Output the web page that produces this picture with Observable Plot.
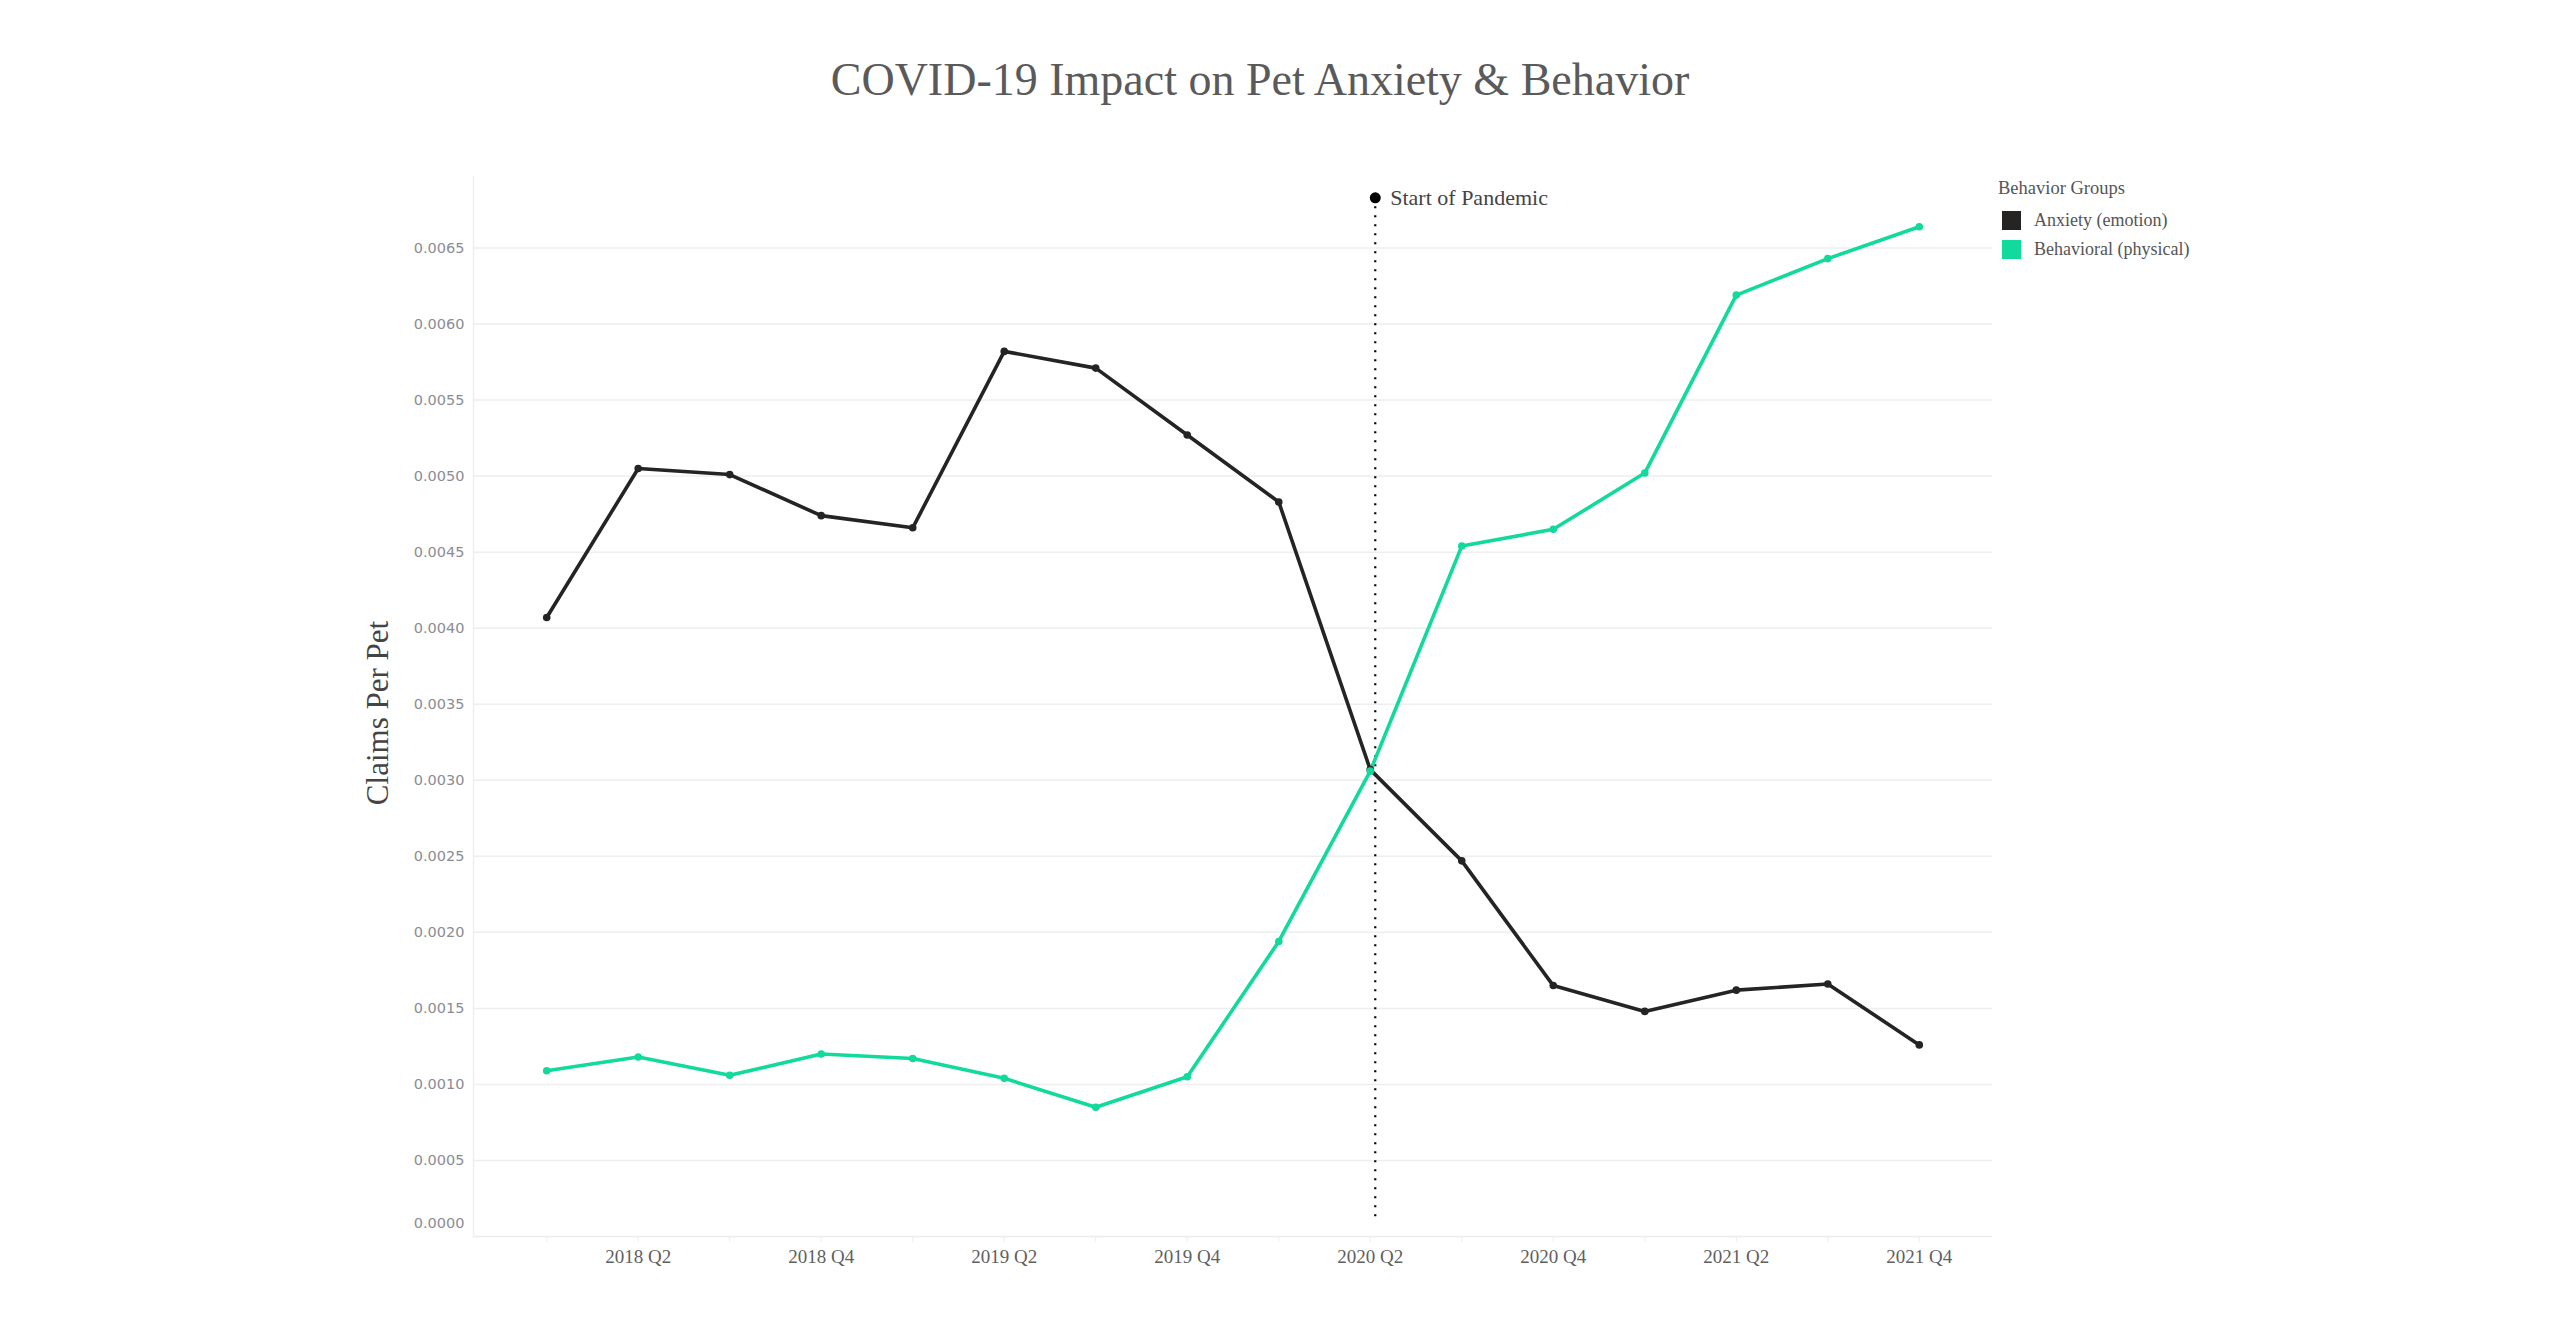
<!DOCTYPE html>
<html><head><meta charset="utf-8">
<script src="https://cdn.jsdelivr.net/npm/d3@7"></script>
<script src="https://cdn.jsdelivr.net/npm/@observablehq/plot@0.6"></script>
<style>
body{margin:0;background:#fff;}
#wrap{position:relative;width:2560px;height:1341px;overflow:hidden;font-family:"Liberation Serif",serif;}
#chart{position:absolute;left:0;top:0;}
#title{position:absolute;left:0;width:2520px;top:57px;text-align:center;font-size:46px;color:#5a5a5a;line-height:1;}
#ylabel{position:absolute;left:377px;top:713px;transform:translate(-50%,-50%) rotate(-90deg);font-size:31px;color:#444;white-space:nowrap;line-height:1;}
#legend{position:absolute;left:1998px;top:178px;color:#555;}
#legend .lt{font-size:18.5px;margin-bottom:7px;}
#legend .it{display:flex;align-items:center;font-size:18px;height:29px;}
#legend .sw{width:19px;height:19px;margin:0 13px 0 4px;}
</style></head>
<body>
<div id="wrap">
  <div id="chart"></div>
  <div id="title"></div>
  <div id="ylabel"></div>
  <div id="legend"></div>
</div>
<script>
const titleText = "COVID-19 Impact on Pet Anxiety & Behavior";
const yLabel = "Claims Per Pet";
const legendTitle = "Behavior Groups";
const quarters = ["2018 Q1","2018 Q2","2018 Q3","2018 Q4","2019 Q1","2019 Q2","2019 Q3","2019 Q4",
                  "2020 Q1","2020 Q2","2020 Q3","2020 Q4","2021 Q1","2021 Q2","2021 Q3","2021 Q4"];
const xTicks = ["2018 Q2","2018 Q4","2019 Q2","2019 Q4","2020 Q2","2020 Q4","2021 Q2","2021 Q4"];
const yTicks = [0.0005,0.001,0.0015,0.002,0.0025,0.003,0.0035,0.004,0.0045,0.005,0.0055,0.006,0.0065];
const yZeroTick = [0];
const groups = ["Anxiety (emotion)","Behavioral (physical)"];
const colors = ["#252423","#12d99c"];
const anxiety = [0.00407,0.00505,0.00501,0.00474,0.00466,0.00582,0.00571,0.00527,
                 0.00483,0.00307,0.00247,0.00165,0.00148,0.00162,0.00166,0.00126];
const behavioral = [0.00109,0.00118,0.00106,0.00120,0.00117,0.00104,0.00085,0.00105,
                    0.00194,0.00306,0.00454,0.00465,0.00502,0.00619,0.00643,0.00664];
const pandemic = [{quarter:"2020 Q2", y1:0.00013, y2:0.00683, label:"Start of Pandemic"}];

const data = [];
quarters.forEach((q,i)=>{
  data.push({quarter:q, group:groups[0], value:anxiety[i]});
  data.push({quarter:q, group:groups[1], value:behavioral[i]});
});

const fmt = d3.format(".4f");
const plot = Plot.plot({
  width: 2560,
  height: 1341,
  marginTop: 176,
  marginBottom: 105,
  marginLeft: 473,
  marginRight: 568,
  style: {background:"transparent"},
  x: {type:"point", domain: quarters, padding: 0.8, round: false},
  y: {domain:[0, 0.00697]},
  color: {domain: groups, range: colors},
  marks: [
    Plot.frame({anchor:"left", stroke:"#f0f0f0", strokeWidth:1.5}),
    Plot.gridY(yTicks, {stroke:"#eeeeee", strokeOpacity:1, strokeWidth:1.5}),
    Plot.ruleY([0], {stroke:"#ececec", strokeWidth:1.5}),
    Plot.axisX(quarters, {tickSize:6, tickFormat:()=>"", stroke:"#ededed", label:null}),
    Plot.axisY(yTicks, {tickSize:0, tickPadding:9, tickFormat: fmt, label:null,
      fontFamily:"DejaVu Sans", fontSize:14.5, fill:"#8a8d93"}),
    Plot.axisY(yZeroTick, {tickSize:0, tickPadding:9, tickFormat: fmt, label:null, dy:-13,
      fontFamily:"DejaVu Sans", fontSize:14.5, fill:"#8a8d93"}),
    Plot.axisX(xTicks, {tickSize:0, tickPadding:13, label:null,
      fontFamily:"Liberation Serif", fontSize:19, fill:"#5f5f5f"}),
    Plot.ruleX(pandemic, {x:"quarter", y1:"y1", y2:"y2", dx:5, stroke:"#000", strokeWidth:2.2, strokeDasharray:"2,7"}),
    Plot.line(data, {x:"quarter", y:"value", stroke:"group", strokeWidth:3.6, z:"group"}),
    Plot.dot(data, {x:"quarter", y:"value", fill:"group", r:3.8}),
    Plot.dot(pandemic, {x:"quarter", y:"y2", dx:5, fill:"#000", r:5.5}),
    Plot.text(pandemic, {x:"quarter", y:"y2", text:"label", textAnchor:"start", dx:20,
      fontFamily:"Liberation Serif", fontSize:22, fill:"#444"})
  ]
});
document.getElementById("chart").appendChild(plot);
document.getElementById("title").textContent = titleText;
document.getElementById("ylabel").textContent = yLabel;
const lg = document.getElementById("legend");
const lt = document.createElement("div"); lt.className="lt"; lt.textContent = legendTitle; lg.appendChild(lt);
groups.forEach((g,i)=>{
  const it = document.createElement("div"); it.className="it";
  const sw = document.createElement("span"); sw.className="sw"; sw.style.background = colors[i];
  const tx = document.createElement("span"); tx.textContent = g;
  it.appendChild(sw); it.appendChild(tx); lg.appendChild(it);
});
</script>
</body></html>
